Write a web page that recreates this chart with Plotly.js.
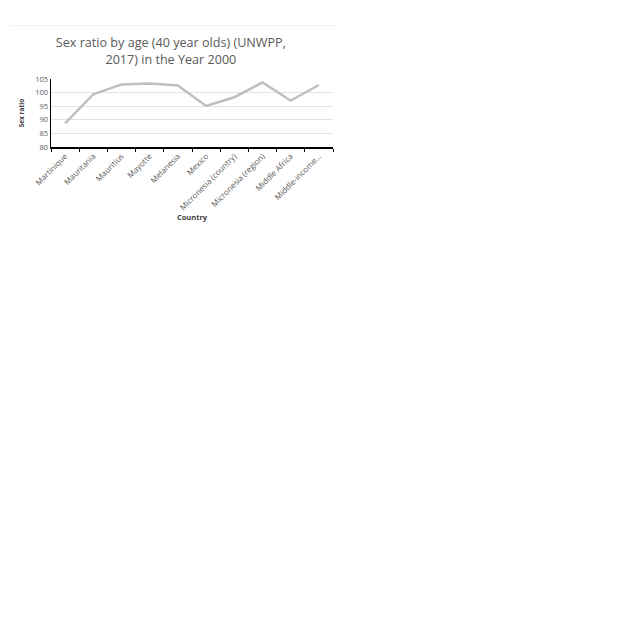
<!DOCTYPE html>
<html>
<head>
<meta charset="utf-8">
<script src="https://cdn.plot.ly/plotly-3.0.1.min.js"></script>
<style>html,body{margin:0;padding:0;background:#fff;}#chart{width:640px;height:640px;}</style>
</head>
<body>
<div id="chart"></div>
<script>
const countries = ["Martinique","Mauritania","Mauritius","Mayotte","Melanesia","Mexico","Micronesia (country)","Micronesia (region)","Middle Africa","Middle-income…"];
const sexRatio = [88.7, 99.4, 103.0, 103.3, 102.6, 95.1, 98.3, 103.7, 97.1, 102.8];
const yTicks = [80, 85, 90, 95, 100, 105];

const font = "Open Sans, Liberation Sans, sans-serif";
const trace = {
  x: countries, y: sexRatio, type: "scatter", mode: "lines",
  line: {color: "#bfbfbf", width: 2.5}, hoverinfo: "skip"
};
const layout = {
  width: 640, height: 640,
  margin: {l: 51, r: 307, t: 79, b: 493},
  paper_bgcolor: "#fff", plot_bgcolor: "#fff",
  showlegend: false,
  title: {text: "Sex ratio by age (40 year olds) (UNWPP,<br>2017) in the Year 2000",
    font: {family: font, size: 12.6, color: "#595959", lineposition: "none"}, x: 0.267, xanchor: "center", y: 0.926, yanchor: "middle"},
  xaxis: {
    type: "category", tickson: "boundaries", ticks: "outside", ticklen: 3, tickcolor: "#000",
    showline: true, linecolor: "#000", linewidth: 1.5, showgrid: false,
    tickangle: -45, tickfont: {family: font, size: 8, color: "#595959"},
    range: [-0.5, 9.5],
    title: {text: "<b>Country</b>", font: {family: font, size: 7.5, color: "#404040"}, standoff: 1}
  },
  yaxis: {
    range: [80, 105], tickvals: yTicks, ticktext: yTicks.map(String),
    showline: true, linecolor: "#000", linewidth: 1.5, ticks: "",
    showgrid: true, gridcolor: "#e3e3e3", gridwidth: 1, zeroline: false,
    tickfont: {family: font, size: 7.5, color: "#595959"},
    title: {text: "<b>Sex ratio</b>", font: {family: font, size: 6.5, color: "#404040"}, standoff: 10}
  },
  shapes: [{type: "line", xref: "paper", yref: "paper", x0: -0.15, x1: 1.01, y0: 1.785, y1: 1.785,
    line: {color: "#f2f2f2", width: 1}}]
};
Plotly.newPlot("chart", [trace], layout, {staticPlot: true});
</script>
</body>
</html>
